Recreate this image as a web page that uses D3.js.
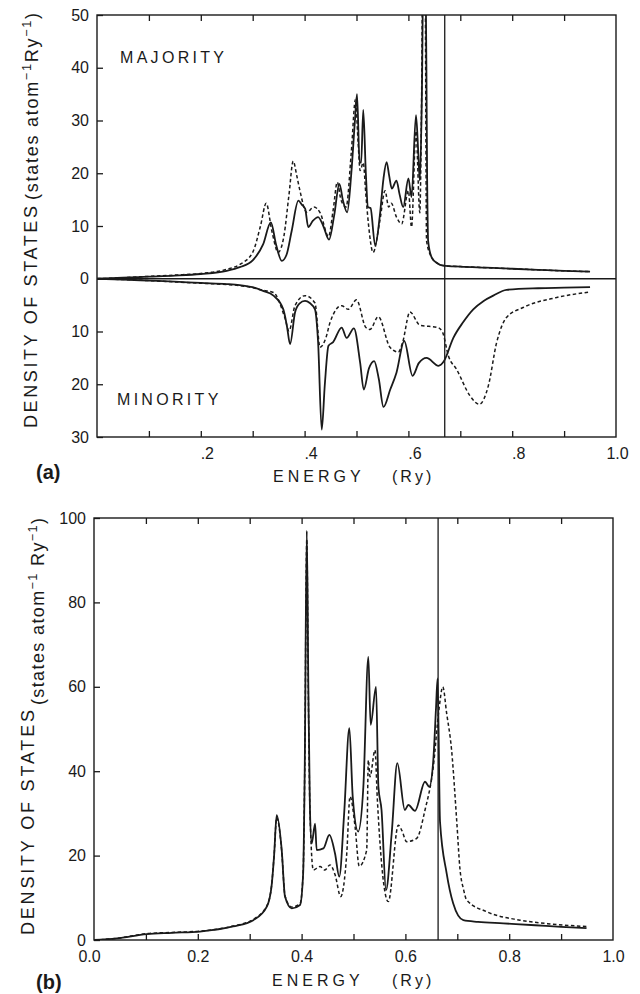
<!DOCTYPE html>
<html><head><meta charset="utf-8">
<script src="https://cdn.jsdelivr.net/npm/d3@7"></script>
<style>
body{margin:0;background:#fff}
svg{display:block}
text{font-family:"Liberation Sans",Arial,Helvetica,sans-serif;fill:#1a1a1a}
</style>
</head><body>
<svg id="c" width="640" height="994"></svg>
<script>
// ---------- DATA (energy in Ry, DOS in states atom^-1 Ry^-1) ----------
// Panel (a) majority spin
const majSolidA = [[0,0],[0.05,0.2],[0.1,0.4],[0.15,0.6],[0.2,0.9],[0.25,1.5],[0.275,2.2],[0.3,3.5],[0.32,6.5],[0.335,10.7],[0.345,6.5],[0.356,3.4],[0.365,4.5],[0.375,9],[0.388,14.8],[0.395,14],[0.401,13.3],[0.407,9.8],[0.416,11],[0.426,11.7],[0.436,10],[0.447,7.4],[0.457,12],[0.467,18],[0.474,14.8],[0.482,12.6],[0.49,20],[0.497,30],[0.501,35],[0.506,22],[0.509,22],[0.513,32],[0.518,20],[0.522,13.6],[0.527,13.4],[0.536,6.3],[0.545,12],[0.552,19],[0.558,22.1],[0.563,19.5],[0.568,17.1],[0.577,18.6],[0.583,16],[0.59,13.6],[0.6,19],[0.606,15.5],[0.6146,31],[0.619,24],[0.622,18.6],[0.626,35],[0.629,60],[0.633,60],[0.636,20],[0.638,7.2],[0.645,4.0],[0.655,3.0],[0.667,2.5],[0.7,2.3],[0.75,2.1],[0.8,1.9],[0.85,1.7],[0.9,1.5],[0.95,1.35]];
const majDashA = [[0,0],[0.05,0.2],[0.1,0.45],[0.15,0.7],[0.2,1.0],[0.25,1.8],[0.275,2.7],[0.3,5],[0.315,10],[0.326,14.3],[0.337,9],[0.349,5.0],[0.36,8],[0.37,16],[0.378,22.3],[0.385,19.5],[0.391,16.7],[0.404,12.6],[0.418,13.6],[0.43,12.5],[0.446,8],[0.455,13],[0.463,18.3],[0.47,15],[0.48,13.6],[0.49,24],[0.498,34],[0.503,26],[0.507,20.5],[0.513,22],[0.518,16],[0.523,10.4],[0.532,5.0],[0.545,11],[0.555,16.7],[0.562,13.6],[0.567,14.3],[0.577,11.7],[0.587,10.4],[0.6,16.7],[0.606,9.8],[0.6146,28],[0.622,12.5],[0.625,30],[0.628,60],[0.632,60],[0.635,7.2],[0.645,4.0],[0.655,3.0],[0.667,2.5],[0.7,2.3],[0.75,2.1],[0.8,1.9],[0.85,1.7],[0.9,1.5],[0.95,1.35]];
// Panel (a) minority spin (magnitudes, drawn downward)
const minSolidA = [[0,0],[0.05,0.15],[0.1,0.35],[0.15,0.55],[0.2,0.8],[0.25,1.0],[0.275,1.2],[0.3,1.6],[0.32,2.3],[0.34,3.2],[0.359,5.8],[0.366,9],[0.372,12.4],[0.3815,6.4],[0.39,4.7],[0.4008,4.2],[0.41,4.6],[0.42,5.8],[0.426,12],[0.433,28.6],[0.439,20],[0.446,12.7],[0.455,12],[0.4714,9.25],[0.481,11.2],[0.495,9.4],[0.507,15.9],[0.514,21],[0.524,17],[0.534,15.6],[0.543,19],[0.552,24.3],[0.565,21],[0.577,17.8],[0.592,11.8],[0.608,18.4],[0.62,16],[0.635,15],[0.658,16.5],[0.668,15.7],[0.6866,11.2],[0.705,8.3],[0.725,5.8],[0.745,4.2],[0.7636,3.2],[0.789,2.1],[0.85,1.8],[0.9,1.7],[0.95,1.6]];
const minDashA = [[0,0],[0.05,0.15],[0.1,0.35],[0.15,0.6],[0.2,0.85],[0.25,1.1],[0.275,1.3],[0.3,1.7],[0.32,2.2],[0.34,2.6],[0.362,7.4],[0.37,9.9],[0.3815,5.1],[0.4008,3.2],[0.42,4.6],[0.4297,13],[0.441,11.2],[0.449,8.3],[0.4714,5.1],[0.484,5.8],[0.5,4.0],[0.518,9.25],[0.526,9.6],[0.542,7.2],[0.5645,13],[0.5806,13.9],[0.589,12],[0.603,6.3],[0.622,8.8],[0.657,9.25],[0.666,10.2],[0.677,14.6],[0.693,17.2],[0.7187,22.2],[0.7366,23.8],[0.754,20.3],[0.77,12.1],[0.789,7.35],[0.821,5.45],[0.886,3.55],[0.95,2.5]];
// Panel (b) total DOS
const solidB = [[0,0],[0.044,0.4],[0.1015,1.4],[0.15,1.7],[0.204,2.0],[0.268,3.2],[0.307,4.7],[0.333,7.9],[0.342,12.6],[0.347,20],[0.352,29.6],[0.3617,21.3],[0.368,10.3],[0.381,7.5],[0.397,8.3],[0.403,15.8],[0.406,40],[0.41,97],[0.413,60],[0.416,31.6],[0.4195,22.9],[0.426,27.6],[0.429,21.3],[0.442,21.7],[0.4535,24.9],[0.4644,20.5],[0.4726,15],[0.482,30],[0.492,50.2],[0.4985,34],[0.509,25.7],[0.519,36.3],[0.5286,67.1],[0.533,51],[0.5434,60],[0.548,36.3],[0.554,30.8],[0.5626,11.8],[0.5736,25.3],[0.5844,41.9],[0.599,30.8],[0.6055,32],[0.6185,30.6],[0.6378,37.5],[0.646,36.3],[0.6538,42.7],[0.659,55],[0.662,62],[0.6667,28],[0.6795,15.8],[0.692,8.7],[0.7116,4.7],[0.74,4.3],[0.7886,3.95],[0.85,3.5],[0.9,3.1],[0.949,2.8]];
const dashB = [[0,0],[0.044,0.4],[0.1015,1.5],[0.15,1.8],[0.204,2.1],[0.268,3.3],[0.307,4.9],[0.333,8.1],[0.342,12.8],[0.347,20],[0.352,29],[0.3617,21],[0.368,10.5],[0.381,7.8],[0.397,8.6],[0.403,16],[0.406,40],[0.41,95],[0.413,58],[0.416,31],[0.4226,16.6],[0.4355,17.4],[0.445,16.6],[0.4547,17.8],[0.4644,15.5],[0.4753,10.3],[0.487,20.5],[0.4933,34],[0.503,26.9],[0.511,17.5],[0.5254,21.3],[0.5286,42.6],[0.5318,38.7],[0.5414,45],[0.546,33.2],[0.567,9.1],[0.5864,27.2],[0.593,26],[0.6025,23.3],[0.6218,24.1],[0.6378,30.8],[0.6538,41.1],[0.665,55],[0.672,60],[0.6795,53.7],[0.689,45],[0.699,28],[0.705,17],[0.712,12],[0.718,9.5],[0.7566,6.7],[0.821,4.7],[0.88,3.8],[0.949,3.2]];

const fermiA = 0.67, fermiB = 0.663;
const yTicksA = [-30,-20,-10,0,10,20,30,40,50];
const yTicksB = [0,20,40,60,80,100];
const minorX = [0.1,0.2,0.3,0.4,0.5,0.6,0.7,0.8,0.9];
const xLabA = [[0.2,".2"],[0.4,".4"],[0.6,".6"],[0.8,".8"],[1.0,"1.0"]];
const xLabB = [[0,"0.0"],[0.2,"0.2"],[0.4,"0.4"],[0.6,"0.6"],[0.8,"0.8"],[1.0,"1.0"]];

// ---------- DRAW ----------
const ink = "#1a1a1a";
const svg = d3.select("#c");

function frameAxes(x, y, yTicks, yFmt, xLabs, fs, labPad, dxFn) {
  const [x0,x1] = x.range(), [yb,yt] = y.range();
  const g = svg.append("g");
  g.append("g").attr("transform",`translate(${x0},0)`)
    .call(d3.axisLeft(y).tickValues(yTicks).tickFormat(yFmt).tickSizeInner(-6).tickSizeOuter(0).tickPadding(8))
    .call(s=>s.select(".domain").remove());
  g.append("g").attr("transform",`translate(0,${yb})`)
    .call(d3.axisBottom(x).tickValues(minorX).tickFormat("").tickSizeInner(-6).tickSizeOuter(0))
    .call(s=>s.select(".domain").remove());
  g.append("g").attr("transform",`translate(0,${yt})`)
    .call(d3.axisTop(x).tickValues(minorX).tickFormat("").tickSizeInner(-6).tickSizeOuter(0))
    .call(s=>s.select(".domain").remove());
  const lab = g.append("g").attr("transform",`translate(0,${yb})`)
    .call(d3.axisBottom(x).tickValues(xLabs.map(d=>d[0])).tickFormat((d,i)=>xLabs[i][1]).tickSize(0).tickPadding(labPad))
    .call(s=>s.select(".domain").remove());
  lab.selectAll("text").attr("dx",(d,i)=>dxFn(xLabs[i][1]));
  g.selectAll(".tick line").attr("stroke",ink).attr("stroke-width",1.3);
  g.selectAll("text").attr("font-size",fs).attr("font-family",'"Liberation Sans",Arial,sans-serif').attr("fill",ink);
  svg.append("rect").attr("x",x0).attr("y",yt).attr("width",x1-x0).attr("height",yb-yt)
    .attr("fill","none").attr("stroke",ink).attr("stroke-width",1.4);
}

function clip(id, x, y) {
  const [x0,x1] = x.range(), [yb,yt] = y.range();
  svg.append("clipPath").attr("id",id).append("rect")
    .attr("x",x0).attr("y",yt).attr("width",x1-x0).attr("height",yb-yt);
}

function curve(data, x, y, sign, dashed, clipId) {
  const line = d3.line().x(d=>x(d[0])).y(d=>y(sign*d[1])).curve(d3.curveMonotoneX);
  svg.append("path").datum(data).attr("d",line)
    .attr("fill","none").attr("stroke",ink)
    .attr("stroke-width",dashed?1.5:1.8)
    .attr("stroke-dasharray",dashed?"3.5,2.5":null)
    .attr("stroke-linejoin","round")
    .attr("clip-path",`url(#${clipId})`);
}

function yLabel(xBase, yStart, len, fs) {
  svg.append("text").attr("transform",`translate(${xBase},${yStart}) rotate(-90)`)
    .attr("font-size",fs).attr("textLength",len).attr("lengthAdjust","spacing")
    .text("DENSITY OF STATES");
}
function yUnits(xBase, yStart, len, fs, gap) {
  const t = svg.append("text").attr("transform",`translate(${xBase},${yStart}) rotate(-90)`)
    .attr("font-size",fs).attr("textLength",len).attr("lengthAdjust","spacing");
  t.append("tspan").text("(states atom");
  t.append("tspan").attr("dy",-7).attr("font-size",fs*0.7).text("\u22121");
  t.append("tspan").attr("dy",7).text(gap ? " Ry" : "Ry");
  t.append("tspan").attr("dy",-7).attr("font-size",fs*0.7).text("\u22121");
  t.append("tspan").attr("dy",7).text(")");
}

// ---- Panel (a) ----
const xa = d3.scaleLinear().domain([0,1]).range([97,616]);
const ya = d3.scaleLinear().domain([-30,50]).range([437,15]);
clip("ca", xa, ya);
frameAxes(xa, ya, yTicksA, d=>Math.abs(d), xLabA, 16, 11, s=>s.startsWith(".")?6:1);
svg.append("line").attr("x1",xa(0)).attr("x2",xa(1)).attr("y1",ya(0)).attr("y2",ya(0)).attr("stroke",ink).attr("stroke-width",1.3);
svg.append("line").attr("x1",xa(fermiA)).attr("x2",xa(fermiA)).attr("y1",ya(50)).attr("y2",ya(-30)).attr("stroke",ink).attr("stroke-width",1.3);
curve(majDashA, xa, ya, 1, true, "ca");
curve(majSolidA, xa, ya, 1, false, "ca");
curve(minDashA, xa, ya, -1, true, "ca");
curve(minSolidA, xa, ya, -1, false, "ca");
svg.append("text").attr("x",120).attr("y",63).attr("font-size",16).attr("letter-spacing",3.3).text("MAJORITY");
svg.append("text").attr("x",117).attr("y",405).attr("font-size",16).attr("letter-spacing",3.3).text("MINORITY");
svg.append("text").attr("x",36).attr("y",479).attr("font-size",20).attr("font-weight","bold").text("(a)");
svg.append("text").attr("x",273).attr("y",482).attr("font-size",16).attr("letter-spacing",4).text("ENERGY");
svg.append("text").attr("x",392).attr("y",482).attr("font-size",16).attr("letter-spacing",3).text("(Ry)");
yLabel(37, 428, 222, 18);
yUnits(38, 200, 187, 18, false);

// ---- Panel (b) ----
const xb = d3.scaleLinear().domain([0,1]).range([94,613]);
const yb = d3.scaleLinear().domain([0,100]).range([940,518]);
clip("cb", xb, yb);
frameAxes(xb, yb, yTicksB, d=>d, xLabB, 16, 11, s=>s==="0.0"?-5:0);
svg.append("line").attr("x1",xb(fermiB)).attr("x2",xb(fermiB)).attr("y1",yb(100)).attr("y2",yb(0)).attr("stroke",ink).attr("stroke-width",1.3);
curve(dashB, xb, yb, 1, true, "cb");
curve(solidB, xb, yb, 1, false, "cb");
svg.append("text").attr("x",36).attr("y",989).attr("font-size",20).attr("font-weight","bold").text("(b)");
svg.append("text").attr("x",272).attr("y",986).attr("font-size",16).attr("letter-spacing",4).text("ENERGY");
svg.append("text").attr("x",392).attr("y",986).attr("font-size",16).attr("letter-spacing",3).text("(Ry)");
yLabel(34, 935, 225, 18);
yUnits(44, 705, 187, 18, true);
</script>
</body></html>
